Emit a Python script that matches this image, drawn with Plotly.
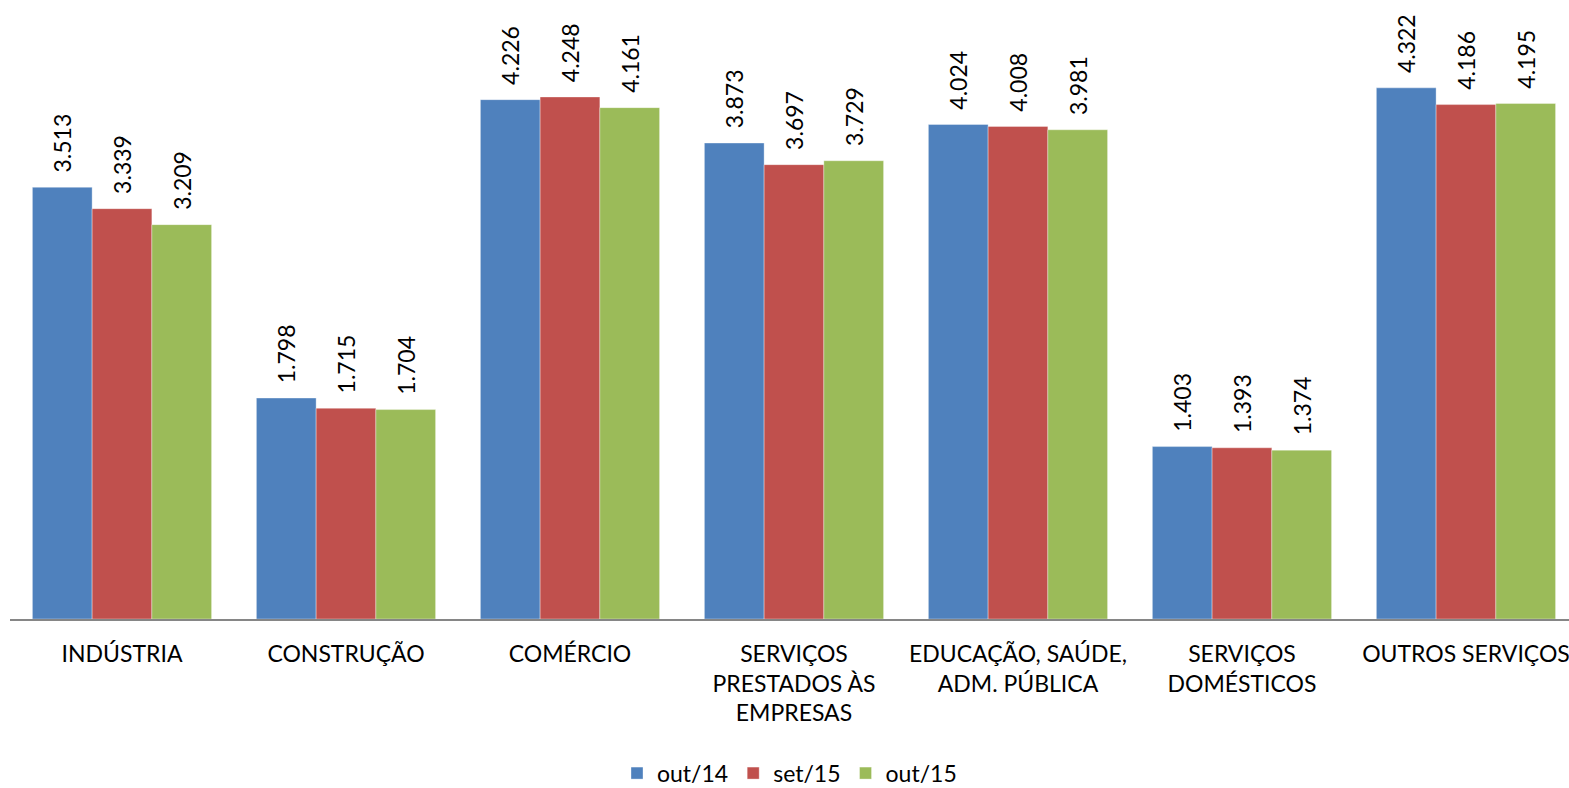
import plotly.graph_objects as go

categories = ["INDÚSTRIA", "CONSTRUÇÃO", "COMÉRCIO", "SERVIÇOS<br>PRESTADOS ÀS<br>EMPRESAS",
              "EDUCAÇÃO, SAÚDE,<br>ADM. PÚBLICA", "SERVIÇOS<br>DOMÉSTICOS", "OUTROS SERVIÇOS"]
series_names = ["out/14", "set/15", "out/15"]
out14 = [3.513, 1.798, 4.226, 3.873, 4.024, 1.403, 4.322]
set15 = [3.339, 1.715, 4.248, 3.697, 4.008, 1.393, 4.186]
out15 = [3.209, 1.704, 4.161, 3.729, 3.981, 1.374, 4.195]
colors = ["#4F81BD", "#C0504D", "#9BBB59"]

FONT = "Lato"
fig = go.Figure()
for name, vals, col in zip(series_names, [out14, set15, out15], colors):
    fig.add_trace(go.Bar(
        x=categories, y=vals, name=name,
        marker=dict(color=col, line=dict(color="rgba(255,255,255,0.35)", width=1)),
        text=[f"\u00a0\u00a0{v:.3f}" for v in vals],
        textposition="outside", textangle=-90, cliponaxis=False, constraintext="none",
        textfont=dict(family=FONT, size=23, color="#000000"),
        hoverinfo="skip",
    ))

fig.update_layout(
    width=1569, height=788,
    margin=dict(l=10, r=0, t=0, b=169, autoexpand=False),
    barmode="group", bargap=0.2, bargroupgap=0,
    paper_bgcolor="white", plot_bgcolor="white",
    font=dict(family=FONT, size=23, color="#000000"),
    showlegend=True,
    legend=dict(orientation="h", x=0.5, xanchor="center", y=-0.249, yanchor="middle",
                font=dict(family=FONT, size=23), itemwidth=30, traceorder="normal"),
    xaxis=dict(showline=True, linecolor="#868686", linewidth=2, ticks="", showgrid=False,
               automargin=False, range=[-0.5, 6.46], tickfont=dict(family=FONT, size=23),
               ticklabelstandoff=13),
    yaxis=dict(visible=False, range=[0, 5.037], showgrid=False, zeroline=False, automargin=False),
)

fig.write_html("out.html", config={"displayModeBar": False},
               post_script="document.body.style.margin='0';document.body.style.overflow='hidden';")
